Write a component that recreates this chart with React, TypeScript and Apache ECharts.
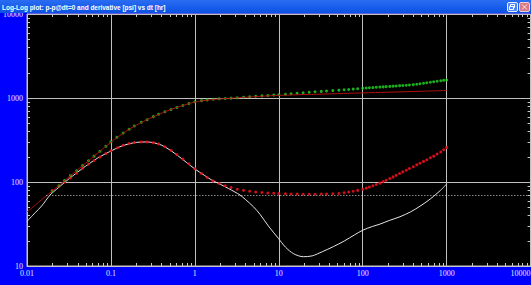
import React, { useEffect, useRef } from "react";
import * as echarts from "echarts";

const TITLE = "Log-Log plot: p-p@dt=0 and derivative [psi] vs dt [hr]";
const xTickLabels = ["0.01", "0.1", "1", "10", "100", "1000", "10000"];
const yTickLabels = ["10", "100", "1000", "10000"];
const xMinorTicks = [
  0.02, 0.03, 0.04, 0.05, 0.06, 0.07, 0.08, 0.09,
  0.2, 0.3, 0.4, 0.5, 0.6, 0.7, 0.8, 0.9,
  2, 3, 4, 5, 6, 7, 8, 9,
  20, 30, 40, 50, 60, 70, 80, 90,
  200, 300, 400, 500, 600, 700, 800, 900,
  2000, 3000, 4000, 5000, 6000, 7000, 8000, 9000,
];
const yMinorTicks = [
  20, 30, 40, 50, 60, 70, 80, 90,
  200, 300, 400, 500, 600, 700, 800, 900,
  2000, 3000, 4000, 5000, 6000, 7000, 8000, 9000,
];

// Pressure change data (green dots)
const pressureTime = [
  0.02, 0.024, 0.028, 0.033, 0.039, 0.046, 0.054, 0.063, 0.074, 0.087,
  0.1, 0.118, 0.14, 0.165, 0.19, 0.23, 0.27, 0.32, 0.37, 0.44,
  0.52, 0.61, 0.72, 0.85, 1.0, 1.2, 1.4, 1.65, 1.95, 2.3,
  2.7, 3.2, 3.8, 4.5, 5.3, 6.3, 7.4, 8.7, 10, 12,
  14, 16.5, 19.5, 23, 27, 32, 37, 44, 52, 60,
  68, 77, 87, 100, 110, 120, 132, 145, 160, 175,
  190, 210, 230, 250, 275, 300, 330, 360, 400, 440,
  480, 530, 580, 640, 700, 770, 850, 920, 1000,
];
const pressureValue = [
  77, 90, 104, 119, 136, 157, 179, 203, 232, 266,
  300, 340, 382, 425, 465, 515, 552, 600, 640, 685,
  730, 772, 815, 860, 900, 930, 950, 965, 977, 987,
  996, 1008, 1022, 1036, 1048, 1060, 1072, 1084, 1095, 1110,
  1124, 1140, 1155, 1170, 1185, 1198, 1210, 1225, 1240, 1253,
  1265, 1277, 1290, 1305, 1315, 1322, 1330, 1340, 1349, 1357,
  1365, 1374, 1383, 1392, 1402, 1411, 1420, 1429, 1441, 1458,
  1476, 1496, 1516, 1538, 1560, 1584, 1606, 1622, 1636,
];

// Derivative data (red dots)
const derivTime = [
  0.02, 0.024, 0.028, 0.033, 0.039, 0.046, 0.054, 0.063, 0.074, 0.087,
  0.1, 0.12, 0.14, 0.165, 0.19, 0.23, 0.27, 0.32, 0.37, 0.44,
  0.52, 0.61, 0.72, 0.85, 1.0, 1.2, 1.4, 1.65, 1.95, 2.3,
  2.7, 3.2, 3.8, 4.5, 5.3, 6.3, 7.4, 8.7, 10, 12,
  14, 16.5, 19.5, 23, 27, 32, 37, 44, 52, 60,
  68, 77, 87, 100, 110, 120, 132, 145, 160, 175,
  190, 210, 230, 250, 275, 300, 330, 360, 400, 440,
  480, 530, 580, 640, 700, 770, 850, 920, 1000,
];
const derivValue = [
  79, 89, 100, 112, 127, 146, 163, 180, 198, 218,
  236, 256, 274, 287, 295, 300, 300, 294, 284, 263,
  238, 212, 188, 165, 144, 126, 113, 103, 96, 90,
  86, 82, 79.5, 77.5, 76, 75, 74, 73.5, 73, 72.5,
  72, 72, 71.5, 71.5, 71.5, 72, 72, 72.5, 73, 74.5,
  76, 77.5, 79.5, 82, 84.5, 87, 90, 93.5, 97, 101,
  105, 110, 115, 120, 126, 132, 138, 145, 152, 160,
  167, 176, 184, 194, 203, 215, 228, 242, 258,
];

// Model pressure (dark red line)
const pressureModelTime = [
  0.01, 0.0125, 0.015, 0.02, 0.03, 0.05, 0.07, 0.1, 0.15, 0.2,
  0.3, 0.5, 0.7, 1.0, 1.5, 2, 3, 5, 7, 10,
  15, 20, 30, 50, 100, 200, 500, 1000,
];
const pressureModelValue = [
  44, 53, 62, 78, 110, 168, 222, 298, 400, 475,
  580, 720, 808, 895, 950, 975, 1000, 1035, 1055, 1075,
  1090, 1100, 1110, 1128, 1150, 1172, 1203, 1229,
];

// Model derivative (white line)
const derivModelTime = [
  0.01, 0.0125, 0.015, 0.0188, 0.0225, 0.0284, 0.035, 0.045, 0.055, 0.07,
  0.085, 0.102, 0.128, 0.16, 0.2, 0.267, 0.33, 0.4, 0.506, 0.63,
  0.8, 1.0, 1.3, 1.6, 2.0, 2.5, 3.0, 3.45, 4.0, 4.96,
  6.0, 7.5, 9.86, 12, 15, 19.6, 25, 33, 44.6, 60,
  80, 101, 130, 160, 210, 278, 370, 481, 600, 692,
  850, 1000,
];
const derivModelValue = [
  34, 43, 52, 70, 82, 100, 118, 143, 165, 194,
  215, 236, 263, 283, 296, 300, 292, 275, 240, 205,
  170, 143, 120, 105, 94, 84, 76, 70, 62, 51,
  41, 30, 21.4, 16.8, 14, 12.9, 13.2, 14.8, 17, 19.8,
  23.5, 26.8, 29.5, 31.5, 35, 38.6, 44, 51.5, 60, 67,
  80, 94.6,
];

// Horizontal dotted reference level
const refLevel = 70;
const refStart = 0.017;
const refEnd = 10000;

const zip = (a: number[], b: number[]) => a.map((v, i) => [v, b[i]]);

export default function App() {
  const ref = useRef<HTMLDivElement>(null);
  useEffect(() => {
    if (!ref.current) return;
    const chart = echarts.init(ref.current, null, { renderer: "svg" });
    const tickColor = "#c8c8c8";
    const labelFont = { color: "#e6e6ff", fontFamily: "Liberation Serif", fontSize: 8 };
    chart.setOption({
      animation: false,
      backgroundColor: "#0000fe",
      grid: {
        left: 27,
        top: 14,
        width: 503.6,
        height: 252,
        containLabel: false,
        outerBoundsMode: "none",
        show: true,
        backgroundColor: "#000000",
        borderColor: "#c0c0c0",
        borderWidth: 1,
      },
      xAxis: {
        type: "log",
        logBase: 10,
        min: 0.01,
        max: 10000,
        axisLine: { show: true, lineStyle: { color: tickColor, width: 1 } },
        axisTick: { show: false },
        splitLine: { show: true, lineStyle: { color: "#c0c0c0", width: 1 } },
        axisLabel: {
          ...labelFont,
          margin: 3,
          alignMaxLabel: "right",
          formatter: (v: number) => xTickLabels[Math.round(Math.log10(v)) + 2] ?? "",
        },
      },
      yAxis: {
        type: "log",
        logBase: 10,
        min: 10,
        max: 10000,
        axisLine: { show: true, lineStyle: { color: tickColor, width: 1 } },
        axisTick: { show: false },
        splitLine: { show: true, lineStyle: { color: "#c0c0c0", width: 1 } },
        axisLabel: {
          ...labelFont,
          margin: 4,
          formatter: (v: number) => yTickLabels[Math.round(Math.log10(v)) - 1] ?? "",
        },
      },
      graphic: [
        {
          type: "rect",
          shape: { x: 0, y: 0, width: 531, height: 13 },
          style: {
            fill: new echarts.graphic.LinearGradient(0, 0, 0, 1, [
              { offset: 0, color: "#2b6cf2" },
              { offset: 1, color: "#0a52e4" },
            ]),
          },
          z: 10,
        },
        {
          type: "text",
          x: 2,
          y: 7,
          scaleX: 0.81,
          style: {
            text: TITLE,
            fill: "#ffffff",
            fontFamily: "Liberation Sans",
            fontWeight: "bold",
            fontSize: 8,
            verticalAlign: "middle",
          },
          z: 11,
        },
        {
          type: "rect",
          shape: { x: 507.5, y: 2.5, width: 10, height: 9, r: 1.5 },
          style: { fill: "#4a86f5", stroke: "#e8f0ff", lineWidth: 1 },
          z: 11,
        },
        {
          type: "rect",
          shape: { x: 510.5, y: 4.5, width: 4, height: 3 },
          style: { fill: "none", stroke: "#ffffff", lineWidth: 1 },
          z: 12,
        },
        {
          type: "rect",
          shape: { x: 509.5, y: 6.5, width: 4, height: 3 },
          style: { fill: "#4a86f5", stroke: "#ffffff", lineWidth: 1 },
          z: 12,
        },
        {
          type: "rect",
          shape: { x: 519.5, y: 2.5, width: 10, height: 9, r: 1.5 },
          style: { fill: "#d77a86", stroke: "#f0d0d8", lineWidth: 1 },
          z: 11,
        },
        {
          type: "line",
          shape: { x1: 522, y1: 4.5, x2: 527, y2: 9.5 },
          style: { stroke: "#f4e4e8", lineWidth: 1 },
          z: 12,
        },
        {
          type: "line",
          shape: { x1: 527, y1: 4.5, x2: 522, y2: 9.5 },
          style: { stroke: "#f4e4e8", lineWidth: 1 },
          z: 12,
        },
      ],
      series: [
        {
          type: "custom",
          silent: true,
          data: xMinorTicks.map((v) => [v, 10]),
          renderItem: (_p: any, api: any) => {
            const v = api.value(0);
            const b = api.coord([v, 10]);
            const t = api.coord([v, 10000]);
            const x = Math.round(b[0]) + 0.5;
            return {
              type: "group",
              children: [
                { type: "line", shape: { x1: x, y1: b[1], x2: x, y2: b[1] - 3 }, style: { stroke: tickColor, lineWidth: 1 } },
                { type: "line", shape: { x1: x, y1: t[1], x2: x, y2: t[1] + 3 }, style: { stroke: tickColor, lineWidth: 1 } },
              ],
            };
          },
          z: 5,
        },
        {
          type: "custom",
          silent: true,
          data: yMinorTicks.map((v) => [0.01, v]),
          renderItem: (_p: any, api: any) => {
            const v = api.value(1);
            const l = api.coord([0.01, v]);
            const r = api.coord([10000, v]);
            const y = Math.round(l[1]) + 0.5;
            return {
              type: "group",
              children: [
                { type: "line", shape: { x1: l[0], y1: y, x2: l[0] + 3, y2: y }, style: { stroke: tickColor, lineWidth: 1 } },
                { type: "line", shape: { x1: r[0], y1: y, x2: r[0] - 3, y2: y }, style: { stroke: tickColor, lineWidth: 1 } },
              ],
            };
          },
          z: 5,
        },
        {
          name: "Model derivative",
          type: "line",
          data: zip(derivModelTime, derivModelValue),
          showSymbol: false,
          smooth: 0.3,
          lineStyle: { color: "#e4e4e4", width: 1 },
          z: 2,
          markLine: {
            silent: true,
            symbol: "none",
            label: { show: false },
            lineStyle: { color: "#c8c8c8", width: 1, type: [1, 2] },
            data: [[{ coord: [refStart, refLevel] }, { coord: [refEnd, refLevel] }]],
          },
        },
        {
          name: "Derivative",
          type: "scatter",
          data: zip(derivTime, derivValue),
          symbol: "circle",
          symbolSize: 3,
          itemStyle: { color: "#e8101c", opacity: 0.9 },
          z: 3,
        },
        {
          name: "Pressure",
          type: "scatter",
          data: zip(pressureTime, pressureValue),
          symbol: "circle",
          symbolSize: 3,
          itemStyle: { color: "#22d822" },
          z: 3,
        },
        {
          name: "Model pressure",
          type: "line",
          data: zip(pressureModelTime, pressureModelValue),
          showSymbol: false,
          smooth: 0.3,
          lineStyle: { color: "#b01010", width: 1 },
          z: 4,
        },
      ],
    });
    return () => chart.dispose();
  }, []);
  return (
    <div
      ref={ref}
      style={{ position: "fixed", left: 0, top: 0, width: 531, height: 285 }}
    />
  );
}
